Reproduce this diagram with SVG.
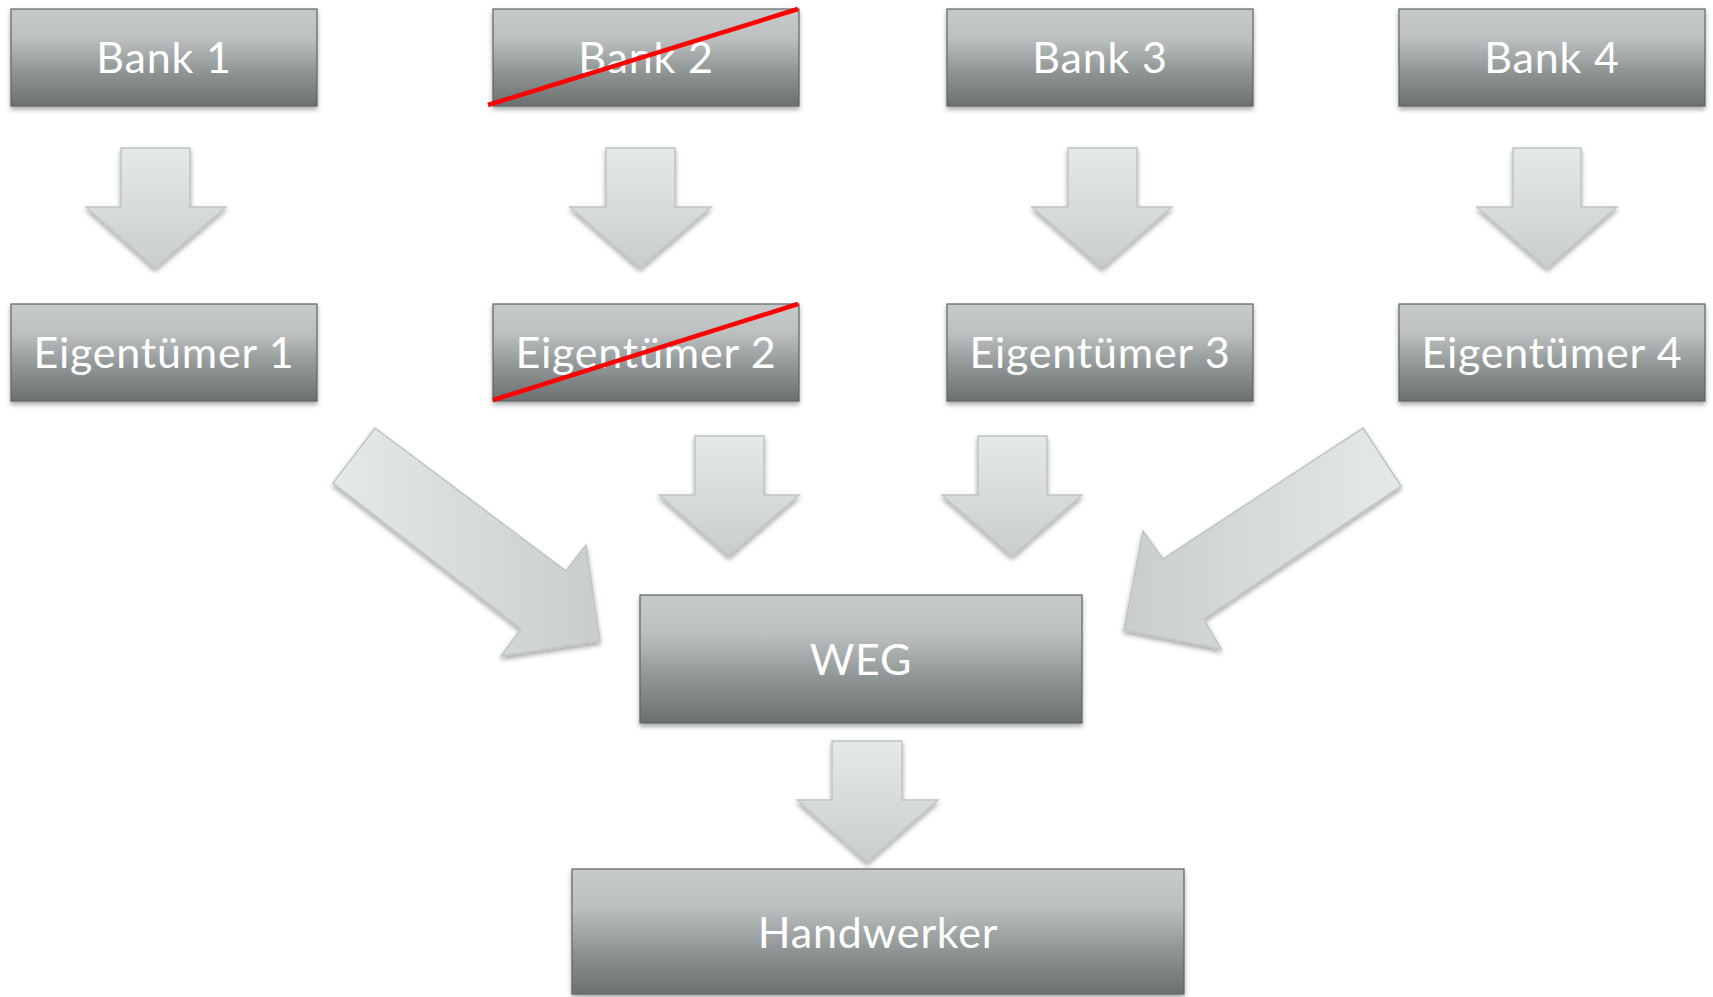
<svg xmlns="http://www.w3.org/2000/svg" width="1713" height="997" viewBox="0 0 1713 997">
<defs>
<linearGradient id="boxg" x1="0" y1="0" x2="0" y2="1">
<stop offset="0" stop-color="#c6cacb"/>
<stop offset="0.3" stop-color="#bcc0c1"/>
<stop offset="0.65" stop-color="#8f9495"/>
<stop offset="1" stop-color="#6b7070"/>
</linearGradient>
<linearGradient id="arrg" x1="0" y1="0" x2="0" y2="1">
<stop offset="0" stop-color="#e4e9e9"/>
<stop offset="1" stop-color="#c9cdce"/>
</linearGradient>
<linearGradient id="arrL" x1="0" y1="0" x2="1" y2="0">
<stop offset="0" stop-color="#e4e9e9"/>
<stop offset="1" stop-color="#c9cdce"/>
</linearGradient>
<linearGradient id="arrR" x1="1" y1="0" x2="0" y2="0">
<stop offset="0" stop-color="#e4e9e9"/>
<stop offset="1" stop-color="#c9cdce"/>
</linearGradient>
<filter id="sh" x="-10%" y="-10%" width="120%" height="130%">
<feGaussianBlur in="SourceAlpha" stdDeviation="2.5"/>
<feOffset dx="0" dy="3" result="b"/>
<feComponentTransfer><feFuncA type="linear" slope="0.35"/></feComponentTransfer>
<feMerge><feMergeNode/><feMergeNode in="SourceGraphic"/></feMerge>
</filter>
</defs>
<style>
.box{fill:url(#boxg);stroke:#5e6363;stroke-width:1.2;filter:url(#sh)}
.lbl{font-family:Lato,"Open Sans","Liberation Sans",sans-serif;font-size:43px;letter-spacing:0.8px;fill:#ffffff;text-anchor:middle}
.arr{stroke:#bfc4c4;stroke-width:1.5;filter:url(#sh)}
.strike{stroke:#ff0000;stroke-width:4.5;stroke-linecap:butt}
</style>
<rect width="1713" height="997" fill="#ffffff"/>
<g id="connectors">
<polygon class="arr" fill="url(#arrg)" points="121,148 190,148 190,207 226,207 155,268 86,207 121,207"/>
<polygon class="arr" fill="url(#arrg)" points="606,148 675,148 675,207 711,207 640,268 570,207 606,207"/>
<polygon class="arr" fill="url(#arrg)" points="1068,148 1137,148 1137,207 1172,207 1102,268 1032,207 1068,207"/>
<polygon class="arr" fill="url(#arrg)" points="1513,148 1581,148 1581,207 1617,207 1547,268 1477,207 1513,207"/>
<polygon class="arr" fill="url(#arrg)" points="695,436 764,436 764,495 799,495 729,556 659,495 695,495"/>
<polygon class="arr" fill="url(#arrg)" points="978,436 1047,436 1047,495 1082,495 1012,556 942,495 978,495"/>
<polygon class="arr" fill="url(#arrL)" points="375,428 566,571 586,545 600,641 501,656 521,629 333,483"/>
<polygon class="arr" fill="url(#arrR)" points="1363,428 1401,486 1204,619 1221,649 1124,630 1143,531 1163,559"/>
<polygon class="arr" fill="url(#arrg)" points="832,741 902,741 902,800 938,800 867,862 797,800 832,800"/>
</g>
<g id="bank1"><rect class="box" x="11" y="9" width="306" height="97"/><text class="lbl" x="164" y="73">Bank 1</text></g>
<g id="bank2"><rect class="box" x="493" y="9" width="306" height="97"/><text class="lbl" x="646" y="73">Bank 2</text><line class="strike" x1="488" y1="105" x2="798" y2="9"/></g>
<g id="bank3"><rect class="box" x="947" y="9" width="306" height="97"/><text class="lbl" x="1100" y="73">Bank 3</text></g>
<g id="bank4"><rect class="box" x="1399" y="9" width="306" height="97"/><text class="lbl" x="1552" y="73">Bank 4</text></g>
<g id="eig1"><rect class="box" x="11" y="304" width="306" height="97"/><text class="lbl" x="164" y="368">Eigentümer 1</text></g>
<g id="eig2"><rect class="box" x="493" y="304" width="306" height="97"/><text class="lbl" x="646" y="368">Eigentümer 2</text><line class="strike" x1="493" y1="400" x2="798" y2="304"/></g>
<g id="eig3"><rect class="box" x="947" y="304" width="306" height="97"/><text class="lbl" x="1100" y="368">Eigentümer 3</text></g>
<g id="eig4"><rect class="box" x="1399" y="304" width="306" height="97"/><text class="lbl" x="1552" y="368">Eigentümer 4</text></g>
<g id="weg"><rect class="box" x="640" y="595" width="442" height="128"/><text class="lbl" x="861" y="675">WEG</text></g>
<g id="handwerker"><rect class="box" x="572" y="869" width="612" height="125"/><text class="lbl" x="878" y="948">Handwerker</text></g>
</svg>
